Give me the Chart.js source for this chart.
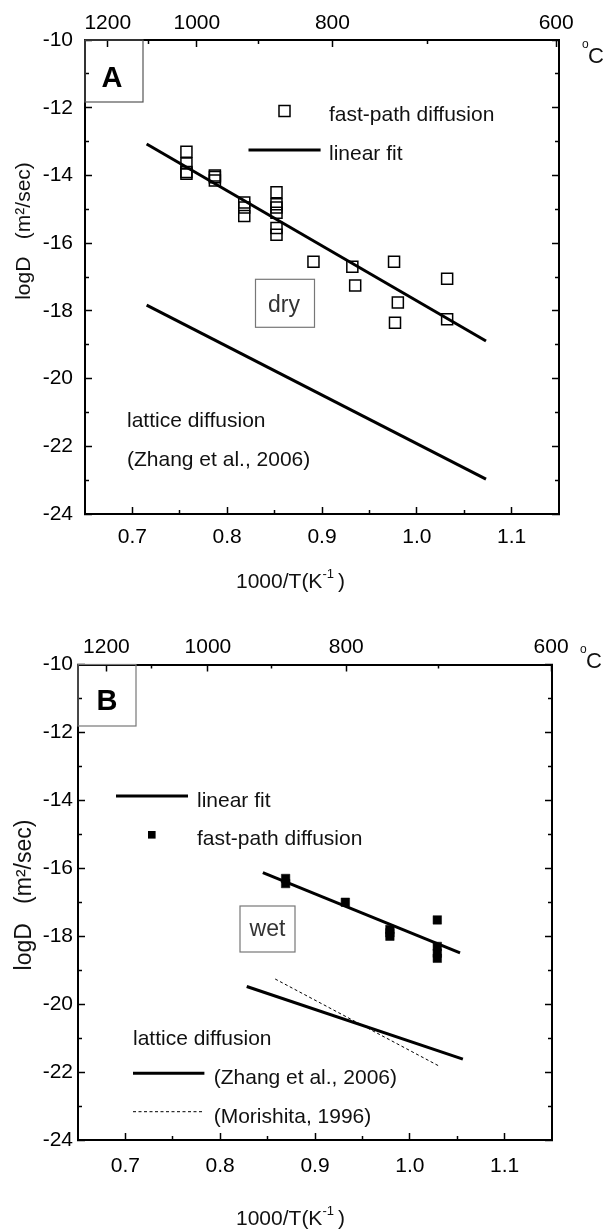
<!DOCTYPE html>
<html>
<head>
<meta charset="utf-8">
<script src="https://cdn.jsdelivr.net/npm/chart.js@4.4.1/dist/chart.umd.min.js"></script>
<style>
  html, body { margin: 0; padding: 0; background: #fff; }
  #wrap { position: relative; width: 604px; height: 1229px; }
  canvas { position: absolute; left: 0; }
  #chartA { top: 0; }
  #chartB { top: 610px; }
</style>
</head>
<body>
<div id="wrap">
  <canvas id="chartA" width="604" height="610"></canvas>
  <canvas id="chartB" width="604" height="619"></canvas>
</div>
<script>
const FONT = '"Liberation Sans", Arial, Helvetica, sans-serif';

// 1000/T and logD ticks
const xMajor = [0.7, 0.8, 0.9, 1.0, 1.1];
const xMinor = [0.75, 0.85, 0.95, 1.05];
const yMajor = [-10, -12, -14, -16, -18, -20, -22, -24];
const yMinor = [-11, -13, -15, -17, -19, -21, -23];

// temperature (°C) ticks on top, placed in 1000/T units
const tempLabels = ['1200', '1000', '800', '600'];
const tempMajorA = [0.674, 0.768, 0.911, 1.147];
const tempMinorA = [0.717, 0.833, 1.011];
const tempMajorB = [0.680, 0.787, 0.933, 1.149];
const tempMinorB = [0.728, 0.854, 1.030];

// panel A - dry
const dryX = [0.757, 0.757, 0.757, 0.757, 0.787, 0.787, 0.787, 0.818, 0.818, 0.818,
              0.852, 0.852, 0.852, 0.852, 0.852, 0.852, 0.891, 0.932, 0.935,
              0.976, 0.980, 0.977, 1.032, 1.032];
const dryY = [-13.3, -13.65, -13.9, -13.95, -14.0, -14.05, -14.15, -14.8, -14.95, -15.2,
              -14.5, -14.85, -14.95, -15.1, -15.55, -15.75, -16.55, -16.7, -17.25,
              -16.55, -17.75, -18.35, -17.05, -18.25];
const fitAX = [0.715, 1.073];
const fitAY = [-13.07, -18.89];
const zhangAX = [0.715, 1.073];
const zhangAY = [-17.83, -22.97];

// panel B - wet
const wetX = [0.869, 0.869, 0.932, 0.979, 0.979, 0.979, 1.029, 1.029, 1.029, 1.029];
const wetY = [-16.3, -16.45, -17.0, -17.8, -17.9, -18.0, -17.52, -18.3, -18.5, -18.65];
const fitBX = [0.845, 1.053];
const fitBY = [-16.13, -18.49];
const zhangBX = [0.828, 1.056];
const zhangBY = [-19.48, -21.62];
const morishitaX = [0.858, 1.03];
const morishitaY = [-19.26, -21.81];

function pts(xs, ys) {
  return xs.map((x, i) => ({ x: x, y: ys[i] }));
}

function ticksAt(vals) {
  return scale => { scale.ticks = vals.map(v => ({ value: v })); };
}

function makeAxis(o) {
  const horiz = o.position === 'top' || o.position === 'bottom';
  return {
    type: 'linear',
    axis: horiz ? 'x' : 'y',
    position: o.position,
    min: horiz ? 0.65 : -24,
    max: horiz ? 1.15 : -10,
    weight: o.minor ? 0 : 1,
    afterBuildTicks: ticksAt(o.values),
    afterFit: scale => {
      if (horiz) scale.height = o.size; else scale.width = o.size;
    },
    border: { color: '#000', width: 2 },
    grid: {
      drawOnChartArea: false,
      tickLength: o.minor ? -4 : -7,
      tickColor: '#000',
      tickWidth: 1.5
    },
    ticks: {
      display: !!o.label,
      autoSkip: false,
      maxRotation: 0,
      padding: o.pad || 0,
      color: '#000',
      font: { family: FONT, size: 21 },
      callback: o.label || (() => '')
    }
  };
}

function makeScales(s) {
  return {
    x: makeAxis({ position: 'bottom', values: xMajor, size: s.bottom, pad: s.padBottom, label: v => v.toFixed(1) }),
    xm: makeAxis({ position: 'bottom', values: xMinor, size: 0, minor: true }),
    xt: makeAxis({ position: 'top', values: s.tempMajor, size: s.top, pad: s.padTop, label: (v, i) => tempLabels[i] }),
    xtm: makeAxis({ position: 'top', values: s.tempMinor, size: 0, minor: true }),
    y: makeAxis({ position: 'left', values: yMajor, size: s.left, pad: s.padLeft, label: v => String(v) }),
    ym: makeAxis({ position: 'left', values: yMinor, size: 0, minor: true }),
    yr: makeAxis({ position: 'right', values: yMajor, size: s.right }),
    yrm: makeAxis({ position: 'right', values: yMinor, size: 0, minor: true })
  };
}

function lineSet(xs, ys, extra) {
  return Object.assign({
    data: pts(xs, ys), showLine: true, pointRadius: 0,
    borderColor: '#000', borderWidth: 3, fill: false
  }, extra || {});
}

function text(ctx, s, x, y, size, align, color, weight) {
  ctx.font = (weight ? weight + ' ' : '') + size + 'px ' + FONT;
  ctx.textAlign = align || 'left';
  ctx.textBaseline = 'alphabetic';
  ctx.fillStyle = color || '#111';
  ctx.fillText(s, x, y);
}

function hline(ctx, x1, x2, y, w, dash) {
  ctx.beginPath();
  ctx.setLineDash(dash || []);
  ctx.lineWidth = w;
  ctx.strokeStyle = '#000';
  ctx.moveTo(x1, y);
  ctx.lineTo(x2, y);
  ctx.stroke();
  ctx.setLineDash([]);
}

function yTitle(ctx, x, yc, size) {
  ctx.save();
  ctx.translate(x, yc);
  ctx.rotate(-Math.PI / 2);
  text(ctx, 'logD   (m\u00B2/sec)', 0, 0, size, 'center');
  ctx.restore();
}

function xTitle(ctx, x, y) {
  ctx.font = '21px ' + FONT;
  text(ctx, '1000/T(K', x, y, 21);
  x += ctx.measureText('1000/T(K').width;
  text(ctx, '-1', x, y - 10, 13);
  ctx.font = '13px ' + FONT;
  x += ctx.measureText('-1').width + 4;
  text(ctx, ')', x, y, 21);
}

function degC(ctx, x, y) {
  text(ctx, 'o', x, y - 15, 12);
  text(ctx, 'C', x + 6, y, 22);
}

const notesA = {
  id: 'notesA',
  afterDraw(chart) {
    const ctx = chart.ctx;
    ctx.save();
    ctx.strokeStyle = '#555'; ctx.lineWidth = 1.2;
    ctx.strokeRect(85, 40, 58, 62);
    text(ctx, 'A', 112, 87, 29, 'center', '#000', 'bold');

    ctx.strokeStyle = '#000'; ctx.lineWidth = 1.5;
    ctx.strokeRect(279, 105.5, 11, 11);
    text(ctx, 'fast-path diffusion', 329, 120.7, 21);
    hline(ctx, 248.5, 320.6, 150, 3);
    text(ctx, 'linear fit', 329, 160, 21);

    ctx.strokeStyle = '#777'; ctx.lineWidth = 1.2;
    ctx.strokeRect(255.5, 279.3, 59, 48);
    text(ctx, 'dry', 284, 311.7, 23, 'center', '#333');

    text(ctx, 'lattice diffusion', 127, 426.7, 21);
    text(ctx, '(Zhang et al., 2006)', 127, 466, 21);

    yTitle(ctx, 30, 231, 21);
    xTitle(ctx, 236, 588);
    degC(ctx, 582, 63);
    ctx.restore();
  }
};

const notesB = {
  id: 'notesB',
  afterDraw(chart) {
    const ctx = chart.ctx;
    ctx.save();
    ctx.strokeStyle = '#777'; ctx.lineWidth = 1.2;
    ctx.strokeRect(78, 54.5, 58, 61.5);
    text(ctx, 'B', 107, 100, 29, 'center', '#000', 'bold');

    hline(ctx, 116, 188, 186, 3);
    text(ctx, 'linear fit', 197, 196.7, 21);
    ctx.fillStyle = '#000';
    ctx.fillRect(148, 221, 7.6, 7.6);
    text(ctx, 'fast-path diffusion', 197, 235, 21);

    ctx.strokeStyle = '#777'; ctx.lineWidth = 1.2;
    ctx.strokeRect(240, 296, 55, 46);
    text(ctx, 'wet', 267.5, 326, 23, 'center', '#333');

    text(ctx, 'lattice diffusion', 133, 435, 21);
    hline(ctx, 133, 204.4, 463.3, 3);
    text(ctx, '(Zhang et al., 2006)', 213.7, 474.3, 21);
    hline(ctx, 133, 204.4, 501.7, 1, [3, 2.5]);
    text(ctx, '(Morishita, 1996)', 213.7, 512.7, 21);

    yTitle(ctx, 31, 285, 23);
    xTitle(ctx, 236, 615);
    degC(ctx, 580, 58);
    ctx.restore();
  }
};

const baseOptions = {
  responsive: false,
  animation: false,
  events: [],
  layout: { padding: 0 },
  plugins: { legend: { display: false }, tooltip: { enabled: false } }
};

new Chart(document.getElementById('chartA'), {
  type: 'scatter',
  data: {
    datasets: [
      {
        data: pts(dryX, dryY), pointStyle: 'rect', pointRadius: 7.8,
        borderColor: '#000', backgroundColor: 'rgba(0,0,0,0)', borderWidth: 1.5
      },
      lineSet(fitAX, fitAY),
      lineSet(zhangAX, zhangAY)
    ]
  },
  options: Object.assign({}, baseOptions, {
    scales: makeScales({
      top: 40, bottom: 96, left: 85, right: 45,
      padTop: 11, padBottom: 18, padLeft: 19,
      tempMajor: tempMajorA, tempMinor: tempMinorA
    })
  }),
  plugins: [notesA]
});

new Chart(document.getElementById('chartB'), {
  type: 'scatter',
  data: {
    datasets: [
      {
        data: pts(wetX, wetY), pointStyle: 'rect', pointRadius: 6,
        borderColor: '#000', backgroundColor: '#000', borderWidth: 0.5
      },
      lineSet(fitBX, fitBY),
      lineSet(zhangBX, zhangBY),
      lineSet(morishitaX, morishitaY, { borderWidth: 1, borderDash: [3, 2.5] })
    ]
  },
  options: Object.assign({}, baseOptions, {
    scales: makeScales({
      top: 54.5, bottom: 89, left: 78, right: 52,
      padTop: 12, padBottom: 21, padLeft: 12,
      tempMajor: tempMajorB, tempMinor: tempMinorB
    })
  }),
  plugins: [notesB]
});
</script>
</body>
</html>
